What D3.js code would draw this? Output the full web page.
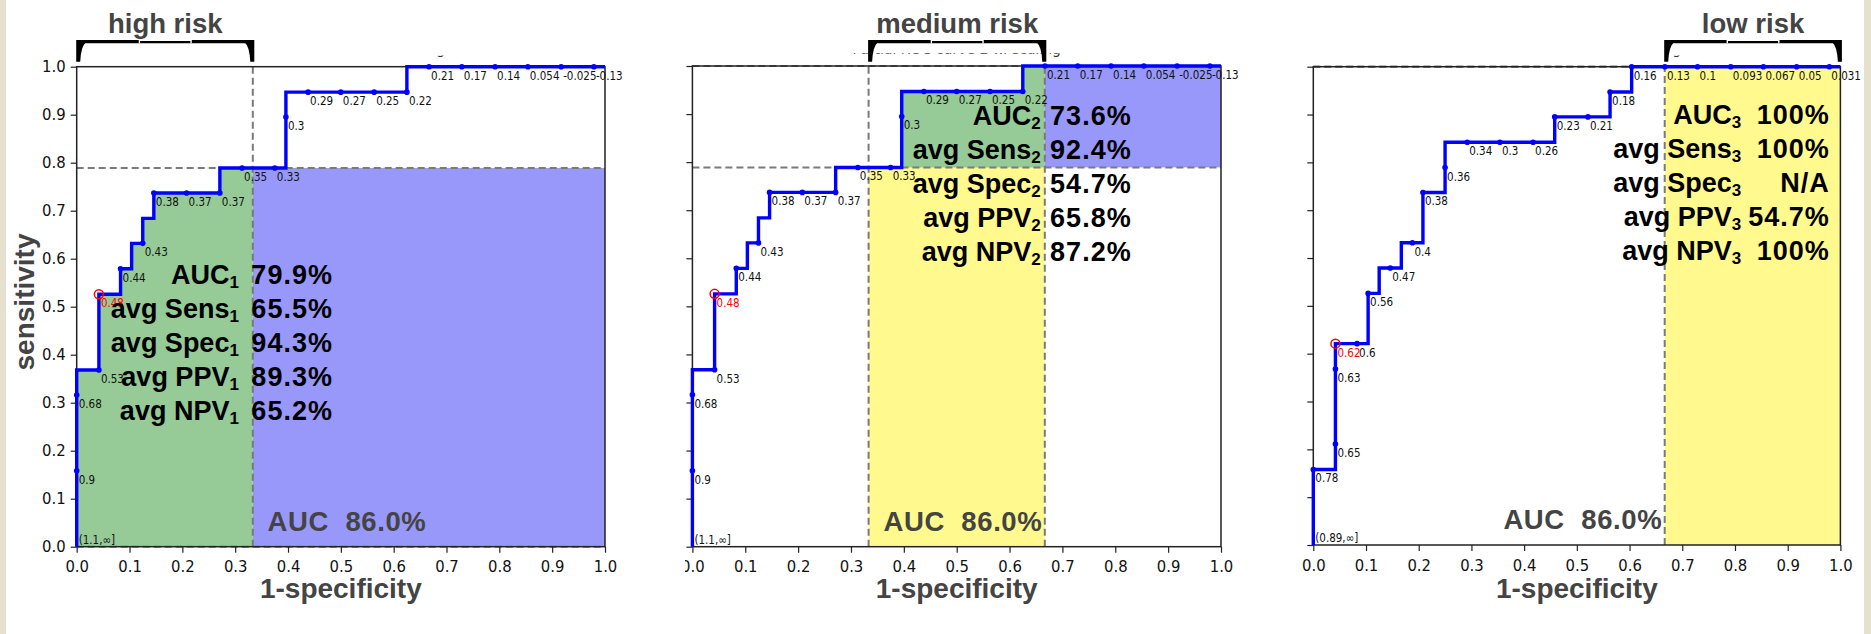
<!DOCTYPE html>
<html lang="en">
<head>
<meta charset="UTF-8" />
<title>Partial ROC curves by risk group</title>
<script src="https://cdnjs.cloudflare.com/ajax/libs/d3/7.8.5/d3.min.js"></script>
<style>
  html, body { margin: 0; padding: 0; background: #fff; overflow: hidden; }
  svg { display: block; }
  .tick text { font-family: "DejaVu Sans", sans-serif; font-stretch: condensed; }
</style>
</head>
<body>
<div id="chart"></div>
<script>
// ROC curve shared by the high and medium risk panels
const rocA_fpr = [0, 0, 0, 0, 0.042, 0.042, 0.083, 0.083, 0.104, 0.104, 0.125, 0.125, 0.146, 0.146, 0.208, 0.271, 0.271,
  0.313, 0.375, 0.396, 0.396, 0.396, 0.438, 0.5, 0.563, 0.625, 0.625, 0.667, 0.729, 0.792, 0.854, 0.917, 0.979, 1];
const rocA_tpr = [0, 0.158, 0.316, 0.368, 0.368, 0.526, 0.526, 0.579, 0.579, 0.632, 0.632, 0.684, 0.684, 0.737, 0.737, 0.737, 0.789,
  0.789, 0.789, 0.789, 0.895, 0.947, 0.947, 0.947, 0.947, 0.947, 1, 1, 1, 1, 1, 1, 1, 1];
const rocA_thr = ["(1.1,∞]", "0.9", "0.68", "", "0.53", "0.48", "", "0.44", "", "", "0.43", "", "", "0.38", "0.37", "0.37", "",
  "0.35", "0.33", "", "0.3", "", "0.29", "0.27", "0.25", "0.22", "", "0.21", "0.17", "0.14", "0.054", "-0.025", "-0.13", ""];
const rocA_best = 5;

// ROC curve of the low risk panel
const rocB_fpr = [0, 0, 0.042, 0.042, 0.042, 0.042, 0.083, 0.104, 0.104, 0.125, 0.125, 0.146, 0.167, 0.167, 0.188, 0.208, 0.208,
  0.25, 0.25, 0.25, 0.292, 0.354, 0.417, 0.458, 0.458, 0.521, 0.563, 0.563, 0.604, 0.604, 0.667, 0.729, 0.792, 0.854, 0.917, 0.979, 1];
const rocB_tpr = [0, 0.158, 0.158, 0.211, 0.368, 0.421, 0.421, 0.421, 0.526, 0.526, 0.579, 0.579, 0.579, 0.632, 0.632, 0.632, 0.737,
  0.737, 0.789, 0.842, 0.842, 0.842, 0.842, 0.842, 0.895, 0.895, 0.895, 0.947, 0.947, 1, 1, 1, 1, 1, 1, 1, 1];
const rocB_thr = ["(0.89,∞]", "0.78", "", "0.65", "0.63", "0.62", "0.6", "", "0.56", "", "", "0.47", "", "", "0.4", "", "0.38",
  "", "0.36", "", "0.34", "0.3", "0.26", "", "0.23", "0.21", "", "0.18", "", "0.16", "0.13", "0.1", "0.093", "0.067", "0.05", "0.031", ""];
const rocB_best = 5;

const riskNames = ["high risk", "medium risk", "low risk"];
const riskRanges = [[0, 1 / 3], [1 / 3, 2 / 3], [2 / 3, 1]];
const sensAtCut = [[0, 0.789], [0.789, 1], [1, 1]];
const panelTitles = ["Partial ROC curve 1 w. scaling", "Partial ROC curve 2 w. scaling", "Partial ROC curve 3 w. scaling"];

const statNames = ["AUC", "avg Sens", "avg Spec", "avg PPV", "avg NPV"];
const stats1 = ["79.9%", "65.5%", "94.3%", "89.3%", "65.2%"];
const stats2 = ["73.6%", "92.4%", "54.7%", "65.8%", "87.2%"];
const stats3 = ["100%", "100%", "N/A", "54.7%", "100%"];
const totalAuc = "86.0%";
const xTicks = d3.range(0, 11).map(d => d / 10);
const yTicks = d3.range(0, 11).map(d => d / 10);

const W = 1871, H = 634;
const boldFont = '"Liberation Sans", Arial, Helvetica, sans-serif';
const green = "#96ca96", blue = "#9898fa", yellow = "#fff98e";

const panels = [
  { box: [76.7, 605, 66.7, 546.7], roc: [rocA_fpr, rocA_tpr, rocA_thr, rocA_best], stats: stats1, statPos: [0.307, 0.485, 0.547], yLabels: true, titleClip: 55.5 },
  { box: [692.4, 1221, 66, 546.7], roc: [rocA_fpr, rocA_tpr, rocA_thr, rocA_best], stats: stats2, statPos: [0.659, 0.831, 0.877], yLabels: false, titleClip: 53.2 },
  { box: [1313.3, 1840.4, 66.7, 545], roc: [rocB_fpr, rocB_tpr, rocB_thr, rocB_best], stats: stats3, statPos: [0.812, 0.98, 0.88], yLabels: false, titleClip: 55.5 },
];

const svg = d3.select("#chart").append("svg").attr("width", W).attr("height", H);
svg.append("rect").attr("width", W).attr("height", H).attr("fill", "#fff");

// piece of a step curve between xa and xb
function sliceCurve(pts, a, b) {
  const out = [];
  for (let i = 0; i < pts.length - 1; i++) {
    const [x1, y1] = pts[i], [x2, y2] = pts[i + 1];
    if (x2 < a || x1 > b) continue;
    const at = x => x2 === x1 ? y1 : y1 + (y2 - y1) * (x - x1) / (x2 - x1);
    const xs = Math.max(x1, a), xe = Math.min(x2, b);
    out.push([xs, x2 === x1 ? y1 : at(xs)]);
    out.push([xe, x2 === x1 ? y2 : at(xe)]);
  }
  return out;
}

panels.forEach((p, k) => {
  const [bx0, bx1, byT, byB] = p.box;
  const x = d3.scaleLinear().domain([0, 1]).range([bx0, bx1]);
  const y = d3.scaleLinear().domain([0, 1]).range([byB, byT]);
  const [fpr, tpr, thr, best] = p.roc;
  const pts = fpr.map((f, i) => [f, tpr[i]]);
  const [a, b] = riskRanges[k];
  const [sa, sb] = sensAtCut[k];
  const g = svg.append("g");

  // half hidden title, only the bottom of the glyphs shows under the bracket
  const cid = "clipT" + k;
  svg.append("clipPath").attr("id", cid).append("rect")
    .attr("x", bx0 - 60).attr("y", p.titleClip).attr("width", bx1 - bx0 + 120).attr("height", 10);
  g.append("text").attr("clip-path", `url(#${cid})`)
    .attr("x", (bx0 + bx1) / 2).attr("y", 54).attr("text-anchor", "middle")
    .attr("font-family", '"DejaVu Sans", sans-serif').attr("font-size", 14).attr("fill", "#333")
    .text(panelTitles[k]);

  // region fills
  const rect = (xa, xb, ya, yb, c) => {
    if (xb <= xa || yb <= ya) return;
    g.append("rect").attr("x", x(xa)).attr("y", y(yb)).attr("width", x(xb) - x(xa)).attr("height", y(ya) - y(yb)).attr("fill", c);
  };
  rect(a, b, 0, sa, yellow);
  rect(b, 1, sa, sb, blue);
  const poly = [[a, sa], ...sliceCurve(pts, a, b), [b, sa]];
  g.append("path").attr("d", d3.line().x(d => x(d[0])).y(d => y(d[1]))(poly) + "Z").attr("fill", green);

  // dashed guides
  const guide = (x1_, y1_, x2_, y2_) => g.append("line")
    .attr("x1", x(x1_)).attr("y1", y(y1_)).attr("x2", x(x2_)).attr("y2", y(y2_))
    .attr("stroke", "#7a7a7a").attr("stroke-width", 2).attr("stroke-dasharray", "7,4");
  [sa, sb].forEach(s => guide(0, s, 1, s));
  [a, b].filter(v => v > 0 && v < 1).forEach(v => guide(v, 0, v, 1));

  // axes
  const xAxis = d3.axisBottom(x).tickValues(xTicks).tickFormat(d3.format(".1f")).tickSize(6).tickPadding(8).tickSizeOuter(0);
  const yAxis = d3.axisLeft(y).tickValues(yTicks).tickFormat(p.yLabels ? d3.format(".1f") : "").tickSize(6).tickPadding(5).tickSizeOuter(0);
  const gx = g.append("g").attr("transform", `translate(0,${byB})`).call(xAxis);
  const gy = g.append("g").attr("transform", `translate(${bx0},0)`).call(yAxis);
  [gx, gy].forEach(ax => {
    ax.select(".domain").remove();
    ax.selectAll(".tick line").attr("stroke", "#222").attr("stroke-width", 1.2);
    ax.selectAll(".tick text").attr("font-size", 16.5).attr("fill", "#111");
  });
  g.append("rect").attr("x", bx0).attr("y", byT).attr("width", bx1 - bx0).attr("height", byB - byT)
    .attr("fill", "none").attr("stroke", "#222").attr("stroke-width", 1.5);

  // ROC curve and thresholds
  g.append("path").attr("d", d3.line().x(d => x(d[0])).y(d => y(d[1]))(pts))
    .attr("fill", "none").attr("stroke", "#0000ff").attr("stroke-width", 3.4).attr("stroke-linejoin", "miter");
  pts.forEach((d, i) => {
    if (!thr[i] || i === 0 || i === best) return;
    g.append("circle").attr("cx", x(d[0])).attr("cy", y(d[1])).attr("r", 2.8).attr("fill", "#0000ff");
  });
  g.append("circle").attr("cx", x(pts[best][0])).attr("cy", y(pts[best][1])).attr("r", 4.5)
    .attr("fill", "none").attr("stroke", "#ff0000").attr("stroke-width", 1.5);
  pts.forEach((d, i) => {
    if (!thr[i]) return;
    g.append("text").attr("x", x(d[0]) + 2).attr("y", y(d[1]) + (i === 0 ? -3 : 13))
      .attr("font-family", '"DejaVu Sans", sans-serif').attr("font-stretch", "condensed")
      .attr("font-size", 11.5).attr("fill", i === best ? "#ff0000" : "#111").text(thr[i]);
  });

  // stats block
  const [lx, vx, sy] = p.statPos;
  p.stats.forEach((v, i) => {
    const yy = y(sy) + i * 34;
    const t = g.append("text").attr("x", x(lx)).attr("y", yy).attr("text-anchor", "end")
      .attr("font-family", boldFont).attr("font-weight", "bold").attr("font-size", 27).attr("fill", "#000");
    t.append("tspan").text(statNames[i]);
    t.append("tspan").attr("font-size", 17).attr("dy", 4).text(k + 1);
    g.append("text").attr("x", x(vx)).attr("y", yy).attr("text-anchor", "end").attr("letter-spacing", 1)
      .attr("font-family", boldFont).attr("font-weight", "bold").attr("font-size", 27).attr("fill", "#000").text(v);
  });
  g.append("text").attr("x", x(0.662)).attr("y", y(0.033)).attr("text-anchor", "end").style("white-space", "pre")
    .attr("font-family", boldFont).attr("font-weight", "bold").attr("font-size", 27.5).attr("fill", "#444")
    .attr("letter-spacing", 0.6).text("AUC  " + totalAuc);

  // risk bracket
  const xa = x(a) - 0.5, xb = x(b) + 1.5, top = 40, bot = 61.7;
  g.append("path").attr("fill", "#000").attr("d",
    `M${xa},${top}H${xb}V${bot}H${xb - 4}Q${xb - 5},${top + 6} ${xb - 9},${top + 3.3}H${xa + 9}Q${xa + 5},${top + 6} ${xa + 4},${bot}H${xa}Z`);
  [0.355, 0.645].forEach(f => g.append("rect").attr("x", xa + (xb - xa) * f - 0.7).attr("y", top).attr("width", 1.4).attr("height", 3.3).attr("fill", "#fff"));
  g.append("rect").attr("x", xa + (xb - xa) * 0.355).attr("y", top).attr("width", (xb - xa) * 0.29).attr("height", 1).attr("fill", "#fff");
  g.append("text").attr("x", (xa + xb) / 2).attr("y", 33).attr("text-anchor", "middle")
    .attr("font-family", boldFont).attr("font-weight", "bold").attr("font-size", 27.5).attr("fill", "#444").text(riskNames[k]);

  // axis titles
  g.append("text").attr("x", (bx0 + bx1) / 2).attr("y", 598).attr("text-anchor", "middle")
    .attr("font-family", boldFont).attr("font-weight", "bold").attr("font-size", 28).attr("fill", "#444").text("1-specificity");
  if (p.yLabels) {
    g.append("text").attr("transform", `translate(34,302) rotate(-90)`).attr("text-anchor", "middle")
      .attr("font-family", boldFont).attr("font-weight", "bold").attr("font-size", 28).attr("fill", "#444").text("sensitivity");
  }
});

// the middle picture was cropped at its left edge
svg.append("rect").attr("x", 630).attr("y", 555).attr("width", 55).attr("height", 30).attr("fill", "#fff");

// beige page border
svg.append("rect").attr("x", 0).attr("y", 0).attr("width", 6).attr("height", H).attr("fill", "#e6e1cf");
svg.append("rect").attr("x", 1864).attr("y", 0).attr("width", W - 1864).attr("height", H).attr("fill", "#e6e1cf");
</script>
</body>
</html>
